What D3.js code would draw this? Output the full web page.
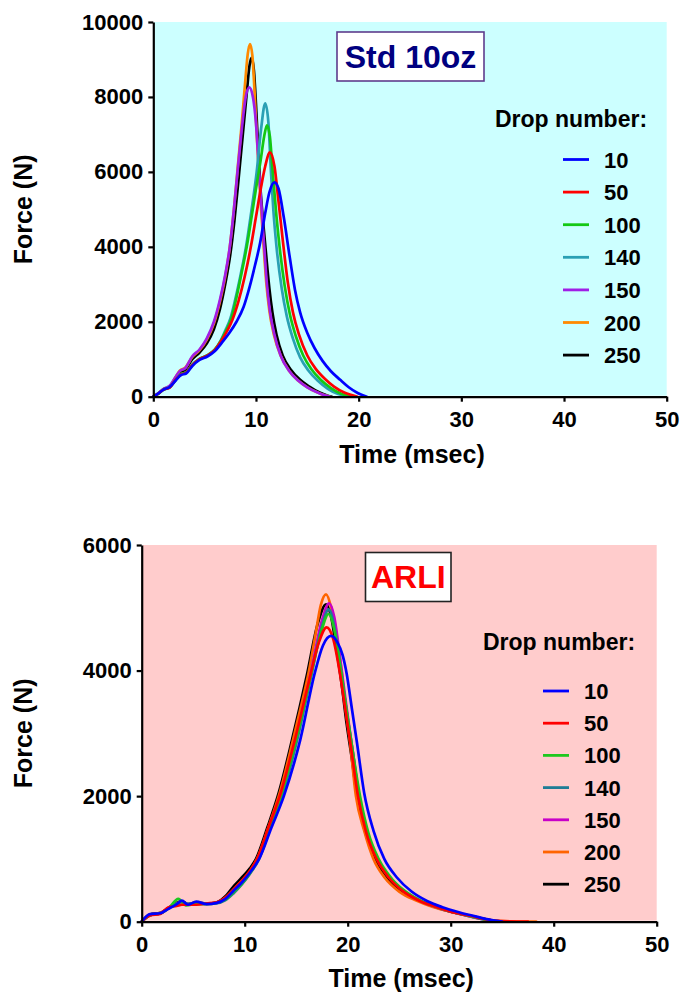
<!DOCTYPE html>
<html><head><meta charset="utf-8">
<script src="https://cdn.jsdelivr.net/npm/d3@7"></script>
<style>
body{margin:0;background:#fff}
svg{display:block}
text{font-family:"Liberation Sans",Arial,Helvetica,sans-serif;font-weight:bold}
</style>
</head><body>
<svg id="chart" width="683" height="993"></svg>
<script>
// ---------- shared labels / ticks ----------
const dropLabels = ["10", "50", "100", "140", "150", "200", "250"];
const xTicks = [0, 10, 20, 30, 40, 50];
const stdYTicks = [0, 2000, 4000, 6000, 8000, 10000];
const arliYTicks = [0, 2000, 4000, 6000];

// ---------- Std 10oz: [time (msec), force (N)] ----------
const std_10 = [[0,0],[0.5,90],[1,190],[1.6,260],[2.2,440],[2.7,580],[3.2,620],[3.8,820],[4.5,980],[5.3,1080],[6,1220],[6.7,1450],[7.4,1700],[8.1,2000],[8.8,2400],[9.4,2950],[9.9,3500],[10.4,4100],[10.9,4900],[11.3,5450],[11.8,5722],[12.2,5550],[12.7,4800],[13.3,3700],[13.8,2850],[14.3,2250],[15.0,1700],[15.7,1300],[16.5,950],[17.3,680],[18.2,450],[19.0,260],[19.9,100],[20.8,0]];
const std_50 = [[0,0],[0.5,85],[1,190],[1.6,245],[2.2,460],[2.7,590],[3.2,640],[3.8,840],[4.5,1000],[5.3,1100],[6,1250],[6.6,1480],[7.2,1760],[7.7,2050],[8.3,2550],[8.9,3200],[9.5,4000],[10.0,4800],[10.5,5600],[10.9,6150],[11.36,6522],[11.8,6150],[12.2,5200],[12.6,4200],[13.1,3050],[13.6,2250],[14.2,1650],[15.0,1100],[15.8,750],[16.7,480],[17.6,270],[18.6,110],[19.9,0]];
const std_100 = [[0,0],[0.5,80],[1,190],[1.6,250],[2.2,455],[2.7,600],[3.2,650],[3.8,850],[4.5,1010],[5.3,1110],[6,1260],[6.6,1500],[7.1,1770],[7.6,2080],[8.1,2650],[8.6,3300],[9.1,4000],[9.6,4850],[10.0,5550],[10.45,6300],[10.8,6950],[11.07,7243],[11.35,6950],[11.6,6100],[12.0,4800],[12.3,4000],[12.8,2950],[13.3,2200],[13.9,1600],[14.6,1100],[15.4,730],[16.3,450],[17.3,230],[18.3,80],[19.4,0]];
const std_140 = [[0,0],[0.5,85],[1,195],[1.6,255],[2.2,450],[2.7,600],[3.2,650],[3.8,860],[4.5,1010],[5.3,1110],[6,1260],[6.6,1520],[7.0,1760],[7.5,2080],[8.0,2620],[8.5,3250],[9.03,4000],[9.55,4950],[10.07,6000],[10.5,7150],[10.9,7830],[11.2,7350],[11.46,6000],[11.7,4950],[12.0,4000],[12.5,2900],[13.0,2150],[13.6,1550],[14.3,1050],[15.1,700],[16.0,430],[17.0,210],[18.0,70],[19.0,0]];
const std_150 = [[0,0],[0.5,100],[1,210],[1.6,290],[2.2,540],[2.6,690],[3.1,760],[3.8,1080],[4.5,1260],[5.2,1550],[5.9,2000],[6.5,2600],[7.0,3250],[7.45,4000],[7.85,5000],[8.2,6000],[8.6,7100],[9.0,8000],[9.35,8257],[9.7,8000],[10.0,7300],[10.3,6000],[10.55,5000],[10.8,4000],[11.05,3050],[11.35,2300],[11.8,1650],[12.4,1100],[13.2,700],[14.1,430],[15.0,250],[16.0,110],[16.7,35],[17.2,0]];
const std_200 = [[0,0],[0.5,90],[1,200],[1.6,280],[2.2,530],[2.6,700],[3.1,770],[3.8,1060],[4.5,1240],[5.2,1520],[5.9,1950],[6.5,2550],[7.0,3200],[7.45,4000],[7.85,5000],[8.2,6050],[8.6,7250],[8.95,8400],[9.2,9150],[9.42,9413],[9.65,9100],[9.85,8200],[10.05,7100],[10.3,5900],[10.5,5000],[10.75,4000],[11.0,3050],[11.3,2300],[11.75,1650],[12.4,1100],[13.2,700],[14.1,430],[15.0,250],[16.0,110],[16.7,35],[17.2,0]];
const std_250 = [[0,0],[0.5,90],[1,200],[1.6,270],[2.2,510],[2.6,650],[3.1,720],[3.8,1000],[4.5,1180],[5.2,1420],[5.9,1800],[6.5,2350],[7.0,3000],[7.5,3800],[7.9,4700],[8.3,5800],[8.7,6950],[9.1,8100],[9.35,8800],[9.58,9047],[9.8,8700],[10.0,7800],[10.2,6700],[10.45,5500],[10.75,4500],[11.0,3750],[11.3,2900],[11.6,2250],[12.0,1650],[12.6,1100],[13.4,720],[14.3,450],[15.2,270],[16.2,110],[17.0,25],[17.4,0]];

// ---------- ARLI: [time (msec), force (N)] ----------
const arli_10 = [[0,0],[0.8,120],[1.8,135],[2.6,205],[3.4,280],[3.9,335],[4.5,270],[5.3,320],[6.3,280],[7.3,300],[8.1,360],[8.9,490],[9.7,620],[10.5,780],[11.4,1000],[12.6,1500],[13.8,2000],[15.4,2900],[16.8,3960],[17.6,4400],[18.38,4551],[19.0,4450],[19.5,4250],[19.9,3950],[20.4,3400],[20.9,2850],[21.6,2050],[22.5,1450],[23.55,1000],[24.8,700],[26.2,480],[27.7,330],[29.2,230],[30.8,150],[32.5,80],[34.0,25],[35.0,0]];
const arli_50 = [[0,0],[0.8,100],[1.8,125],[2.6,230],[3.4,250],[3.9,270],[4.5,270],[5.3,270],[6.3,290],[7.3,310],[8.1,380],[8.9,510],[9.7,650],[10.5,810],[11.2,1000],[12.3,1500],[13.5,2050],[14.8,2850],[16.2,3800],[17.2,4450],[17.96,4689],[18.6,4500],[19.2,4000],[19.8,3350],[20.3,2800],[21.0,2000],[21.8,1420],[22.8,1000],[24.0,700],[25.5,470],[27.0,330],[28.5,240],[30.0,160],[32.0,90],[33.5,35],[35.0,8],[37.5,0]];
const arli_100 = [[0,0],[0.8,100],[1.8,130],[2.6,210],[3.56,364],[4.3,260],[5.3,280],[6.3,280],[7.3,300],[8.1,350],[8.9,470],[9.7,600],[10.5,770],[11.3,1000],[12.4,1500],[13.6,2050],[15.0,2900],[16.4,3900],[17.4,4600],[18.15,4901],[18.7,4650],[19.3,4050],[19.9,3350],[20.5,2700],[21.2,2000],[22.0,1420],[23.0,1000],[24.3,680],[25.8,460],[27.3,320],[28.8,230],[30.3,150],[32.0,85],[33.5,30],[35.0,0]];
const arli_140 = [[0,0],[0.8,105],[1.8,130],[2.6,215],[3.4,290],[3.9,310],[4.5,285],[5.3,300],[6.3,290],[7.3,295],[8.1,340],[8.9,450],[9.7,590],[10.5,760],[11.4,1000],[12.5,1500],[13.7,2050],[15.1,2900],[16.5,3950],[17.5,4700],[18.15,4976],[18.7,4700],[19.3,4050],[19.9,3350],[20.5,2700],[21.1,2000],[21.9,1420],[22.9,1000],[24.2,680],[25.7,460],[27.2,320],[28.7,230],[30.2,150],[32.0,80],[33.5,30],[35.0,0]];
const arli_150 = [[0,0],[0.8,105],[1.8,130],[2.6,215],[3.4,285],[3.9,315],[4.5,280],[5.3,300],[6.3,285],[7.3,300],[8.1,350],[8.9,470],[9.7,610],[10.5,780],[11.3,1000],[12.4,1500],[13.6,2050],[15.0,2900],[16.4,3950],[17.5,4800],[18.2,5072],[18.7,4850],[19.3,4150],[19.9,3400],[20.5,2700],[21.1,2000],[21.9,1420],[22.9,1000],[24.2,680],[25.7,460],[27.2,320],[28.7,230],[30.2,150],[32.0,80],[33.5,30],[35.0,0]];
const arli_200 = [[0,0],[0.8,110],[1.8,140],[2.6,215],[3.4,290],[3.9,320],[4.5,275],[5.3,310],[6.3,285],[7.3,305],[8.1,380],[8.9,510],[9.7,650],[10.5,800],[11.2,1000],[12.3,1500],[13.4,2050],[14.7,2900],[15.5,3450],[16.2,3960],[16.9,4600],[17.4,5050],[17.9,5215],[18.4,5000],[18.9,4550],[19.4,4000],[19.8,3400],[20.2,2900],[20.8,2000],[21.6,1450],[22.5,1000],[23.6,700],[25.0,480],[26.6,340],[28.2,240],[30.0,160],[32.0,90],[33.5,35],[35.0,8],[38.3,0]];
const arli_250 = [[0,0],[0.8,115],[1.8,140],[2.6,220],[3.4,300],[3.9,325],[4.5,280],[5.3,305],[6.3,290],[7.3,310],[8.1,400],[8.9,560],[9.7,700],[10.5,850],[11.1,1000],[12.2,1500],[13.3,2050],[14.6,2900],[16.0,3900],[17.1,4750],[17.9,5056],[18.4,4850],[18.9,4350],[19.4,3800],[19.9,3150],[20.4,2600],[20.9,2000],[21.7,1430],[22.6,1000],[23.8,700],[25.3,480],[26.9,340],[28.4,240],[30.0,160],[32.0,90],[33.5,35],[35.0,0]];

const stdSeries = [std_10, std_50, std_100, std_140, std_150, std_200, std_250];
const arliSeries = [arli_10, arli_50, arli_100, arli_140, arli_150, arli_200, arli_250];

const stdColors = ["#0000ff", "#ff0000", "#14c814", "#2aa0b4", "#a01ee6", "#ff8a00", "#000000"];
const arliColors = ["#0000ff", "#ff0000", "#1ec81e", "#1f7d96", "#c800c8", "#ff6400", "#000000"];

const svg = d3.select("#chart");

function drawPanel(p) {
  const x = d3.scaleLinear().domain([0, 50]).range([p.left, p.right]);
  const y = d3.scaleLinear().domain([0, p.yMax]).range([p.bottom, p.top]);
  const g = svg.append("g");

  // plot background
  g.append("rect")
    .attr("x", x(0) + 1).attr("y", y(p.yMax))
    .attr("width", x(50) - x(0) - 1).attr("height", y(0) - y(p.yMax) - 1)
    .attr("fill", p.bg);

  // curves (last legend entry drawn first)
  const line = d3.line().x(d => x(d[0])).y(d => y(d[1])).curve(d3.curveMonotoneX);
  const order = d3.range(p.series.length).reverse();
  order.forEach(i => {
    g.append("path").datum(p.series[i])
      .attr("d", line).attr("fill", "none")
      .attr("stroke", p.colors[i]).attr("stroke-width", 2.7)
      .attr("stroke-linejoin", "round").attr("stroke-linecap", "round");
  });

  // axes
  const xAxis = d3.axisBottom(x).tickValues(xTicks).tickSize(5).tickSizeOuter(0).tickPadding(10).tickFormat(d3.format("d"));
  const yAxis = d3.axisLeft(y).tickValues(p.yTicks).tickSize(5).tickSizeOuter(0).tickPadding(5).tickFormat(d3.format("d"));
  const gx = g.append("g").attr("transform", `translate(0,${y(0)})`).call(xAxis);
  const gy = g.append("g").attr("transform", `translate(${x(0)},0)`).call(yAxis);
  [gx, gy].forEach(a => {
    a.attr("font-family", null).attr("font-size", null);
    a.select(".domain").attr("stroke", "#000").attr("stroke-width", 2.2);
    a.selectAll(".tick line").attr("stroke", "#000").attr("stroke-width", 2.2);
    a.selectAll(".tick text").attr("fill", "#000").style("font-size", "22px");
  });

  // axis titles
  g.append("text").attr("x", (x(0) + x(50)) / 2 + 2).attr("y", y(0) + p.xTitleDy)
    .attr("text-anchor", "middle").style("font-size", "25px").text("Time (msec)");
  g.append("text")
    .attr("transform", `translate(32,${(y(0) + y(p.yMax)) / 2}) rotate(-90)`)
    .attr("text-anchor", "middle").style("font-size", "25px").text("Force (N)");

  // title box
  g.append("rect").attr("x", p.box[0]).attr("y", p.box[1]).attr("width", p.box[2]).attr("height", p.box[3])
    .attr("fill", "#fff").attr("stroke", p.boxStroke).attr("stroke-width", 1.6);
  g.append("text").attr("x", p.box[0] + p.box[2] / 2).attr("y", p.box[1] + 35.5)
    .attr("text-anchor", "middle").attr("fill", p.titleColor).style("font-size", "32px").text(p.title);

  // legend
  g.append("text").attr("x", p.legX).attr("y", p.legY).style("font-size", "23px").text("Drop number:");
  dropLabels.forEach((lab, i) => {
    const ly = p.legRow0 + i * p.legStep;
    g.append("line").attr("x1", p.legLineX).attr("x2", p.legLineX + 26)
      .attr("y1", ly).attr("y2", ly).attr("stroke", p.colors[i]).attr("stroke-width", 2.8);
    g.append("text").attr("x", p.legLineX + 41).attr("y", ly + 8).style("font-size", "22px").text(lab);
  });
}

drawPanel({
  left: 153.3, right: 666.7, top: 22, bottom: 396.7, yMax: 10000, yTicks: stdYTicks,
  bg: "#ccffff", series: stdSeries, colors: stdColors,
  xTitleDy: 66, box: [337, 32, 147, 49], boxStroke: "#5e3c8c", title: "Std 10oz", titleColor: "#000080",
  legX: 495, legY: 127, legLineX: 563, legRow0: 159.5, legStep: 32.6
});

drawPanel({
  left: 141.7, right: 656.7, top: 545, bottom: 921.7, yMax: 6000, yTicks: arliYTicks,
  bg: "#ffcccc", series: arliSeries, colors: arliColors,
  xTitleDy: 65, box: [365.5, 552.5, 85.5, 49], boxStroke: "#222", title: "ARLI", titleColor: "#ff0000",
  legX: 483, legY: 650, legLineX: 543, legRow0: 691, legStep: 32.2
});
</script>
</body></html>
